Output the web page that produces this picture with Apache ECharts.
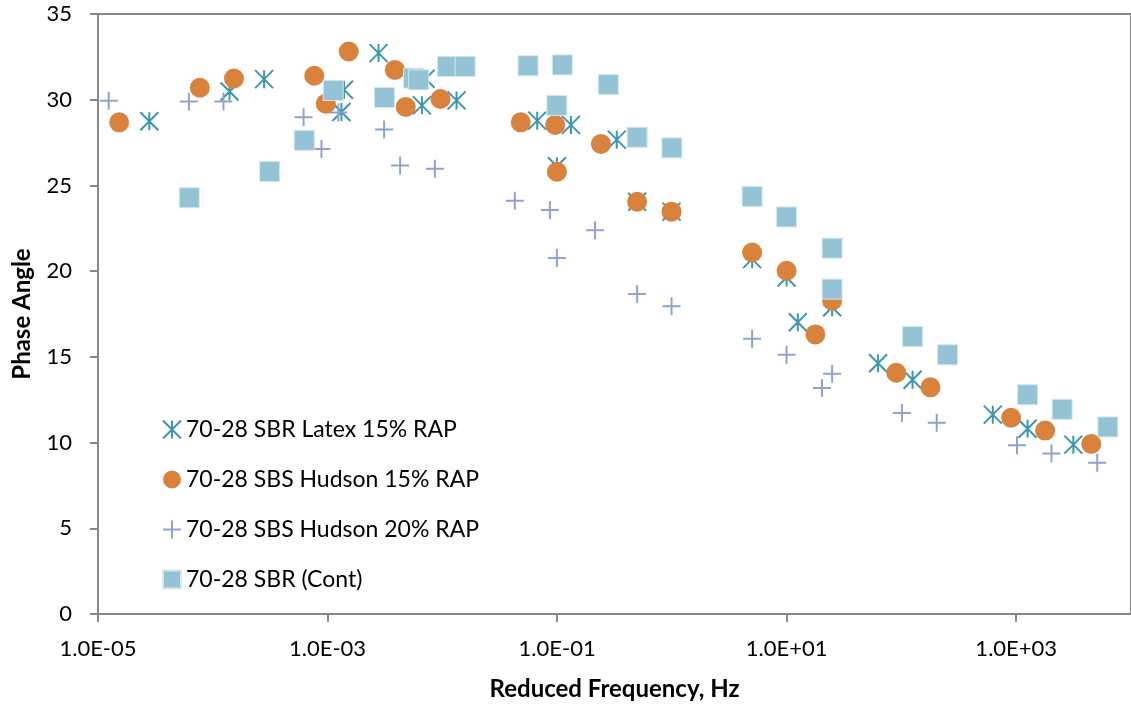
<!DOCTYPE html>
<html style="height: 100%">
<head>
<meta charset="utf-8">
<title>Phase Angle vs Reduced Frequency</title>
<script src="https://cdn.jsdelivr.net/npm/echarts@6/dist/echarts.min.js"></script>
<style>
  html, body { margin: 0; padding: 0; background: #fff; }
  #chart { width: 1131px; height: 706px; }
</style>
</head>
<body>
<div id="chart"></div>
<script>
// values (frequency in Hz, phase angle in degrees)
var seriesNames = ['70-28 SBR Latex 15% RAP', '70-28 SBS Hudson 15% RAP', '70-28 SBS Hudson 20% RAP', '70-28 SBR (Cont)'];

var latexFreq = [2.8e-5, 1.4e-4, 2.8e-4, 1.32e-3, 1.39e-3, 2.78e-3, 6.64e-3, 7.14e-3, 1.33e-2, 6.71e-2, 0.0996, 0.132, 0.331, 0.498, 0.993, 5.0, 9.98, 12.5, 24.9, 62.6, 125, 625, 1256, 3145];
var latexAngle = [28.74, 30.48, 31.2, 29.28, 30.58, 32.72, 29.67, 31.22, 29.96, 28.78, 26.12, 28.53, 27.67, 24.05, 23.47, 20.70, 19.63, 17.02, 17.89, 14.63, 13.66, 11.63, 10.81, 9.88];

var hud15Freq = [1.53e-5, 7.71e-5, 1.53e-4, 7.66e-4, 9.66e-4, 1.53e-3, 3.86e-3, 4.80e-3, 9.64e-3, 4.82e-2, 9.62e-2, 0.0996, 0.241, 0.498, 0.993, 5.0, 9.98, 17.8, 24.9, 90.2, 179, 902, 1787, 4508];
var hud15Angle = [28.68, 30.70, 31.24, 31.40, 29.77, 32.81, 31.74, 29.58, 30.04, 28.68, 28.53, 25.80, 27.42, 24.05, 23.47, 21.09, 20.02, 16.31, 18.27, 14.07, 13.22, 11.45, 10.70, 9.92];

var hud20Freq = [1.24e-5, 6.19e-5, 1.24e-4, 6.18e-4, 8.85e-4, 1.24e-3, 3.11e-3, 4.29e-3, 8.61e-3, 4.28e-2, 8.65e-2, 0.0996, 0.214, 0.498, 0.993, 5.0, 9.98, 20.3, 24.9, 101, 203, 1016, 2028, 5080];
var hud20Angle = [29.94, 29.90, 29.90, 28.97, 27.13, 29.26, 28.26, 26.16, 25.97, 24.11, 23.56, 20.76, 22.38, 18.66, 17.95, 16.05, 15.12, 13.19, 14.01, 11.73, 11.15, 9.84, 9.36, 8.82];

var contFreq = [6.24e-5, 3.13e-4, 6.26e-4, 1.12e-3, 3.13e-3, 5.62e-3, 6.22e-3, 1.11e-2, 1.58e-2, 5.58e-2, 0.0996, 0.111, 0.279, 0.498, 1.0, 5.0, 9.98, 24.9, 24.9, 125, 252, 1256, 2512, 6281];
var contAngle = [24.28, 25.81, 27.63, 30.54, 30.13, 31.26, 31.16, 31.94, 31.94, 31.98, 29.67, 32.03, 30.89, 27.81, 27.19, 24.36, 23.16, 21.34, 18.95, 16.18, 15.12, 12.79, 11.94, 10.91];

// x axis is drawn in decades (log10 of the frequency)
function pairs(freq, angle) {
    return freq.map(function (f, i) { return [Math.log10(f), angle[i]]; });
}

var asterisk = 'path://M0 0 L20 20 M0 20 L20 0 M10 0 L10 20';
var plus = 'path://M0 10 L20 10 M10 0 L10 20';
var font = 'Lato';

var chart = echarts.init(document.getElementById('chart'));
var option = {
    animation: false,
    textStyle: { fontFamily: font, color: '#000' },
    grid: {
        left: 98, right: -6, top: 14, bottom: 90,
        show: true, borderColor: '#888', borderWidth: 2
    },
    legend: {
        orient: 'vertical',
        left: 157,
        top: 413,
        itemWidth: 18,
        itemHeight: 18,
        itemGap: 27,
        textStyle: { fontFamily: font, fontSize: 23, color: '#000' },
        data: seriesNames
    },
    xAxis: {
        type: 'value',
        min: -5,
        max: 4,
        interval: 2,
        name: 'Reduced Frequency, Hz',
        nameLocation: 'middle',
        nameGap: 63,
        nameTextStyle: { fontFamily: font, fontSize: 24, fontWeight: 'bold', color: '#000' },
        axisLine: { onZero: false, lineStyle: { color: '#888', width: 2 } },
        axisTick: { length: 8, lineStyle: { color: '#888', width: 2 } },
        splitLine: { show: false },
        axisLabel: {
            margin: 24,
            fontSize: 22,
            color: '#000',
            showMaxLabel: false,
            formatter: function (v) {
                var e = Math.round(v);
                return '1.0E' + (e < 0 ? '-' : '+') + String(Math.abs(e)).padStart(2, '0');
            }
        }
    },
    yAxis: {
        type: 'value',
        min: 0,
        max: 35,
        interval: 5,
        name: 'Phase Angle',
        nameLocation: 'middle',
        nameGap: 64,
        nameTextStyle: { fontFamily: font, fontSize: 24, fontWeight: 'bold', color: '#000' },
        axisLine: { show: true, onZero: false, lineStyle: { color: '#888', width: 2 } },
        axisTick: { show: true, length: 8, lineStyle: { color: '#888', width: 2 } },
        splitLine: { show: false },
        axisLabel: { margin: 26, fontSize: 22, color: '#000' }
    },
    series: [{
        name: seriesNames[0],
        type: 'scatter',
        symbol: asterisk,
        symbolSize: 18,
        itemStyle: { color: '#3d97ae', borderColor: '#3d97ae', borderWidth: 2, opacity: 1 },
        data: pairs(latexFreq, latexAngle)
    }, {
        name: seriesNames[1],
        type: 'scatter',
        symbol: 'circle',
        symbolSize: 20,
        itemStyle: { color: '#d9823b', opacity: 1 },
        data: pairs(hud15Freq, hud15Angle)
    }, {
        name: seriesNames[2],
        type: 'scatter',
        symbol: plus,
        symbolSize: 18,
        itemStyle: { color: '#8fa3cf', borderColor: '#8fa3cf', borderWidth: 2, opacity: 1 },
        data: pairs(hud20Freq, hud20Angle)
    }, {
        name: seriesNames[3],
        type: 'scatter',
        symbol: 'rect',
        symbolSize: 20,
        itemStyle: { color: '#93c3d5', borderColor: '#d4e7ee', borderWidth: 1, opacity: 1 },
        data: pairs(contFreq, contAngle)
    }]
};
chart.setOption(option);
</script>
</body>
</html>
